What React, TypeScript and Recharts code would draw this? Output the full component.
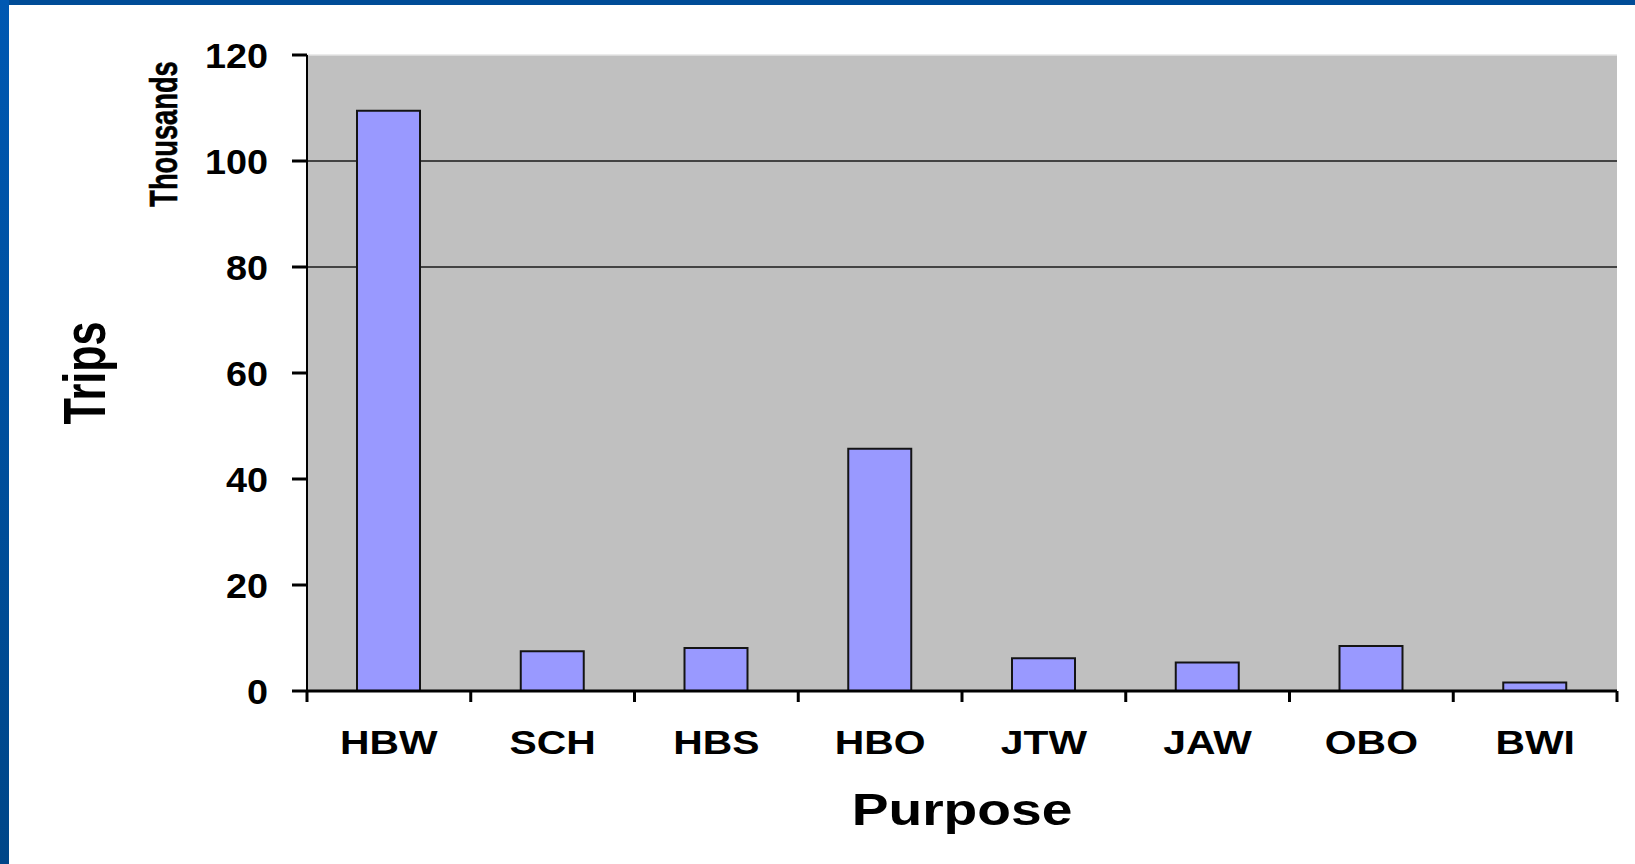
import React from 'react';
import { BarChart, Bar, XAxis, YAxis, CartesianGrid, ReferenceLine } from 'recharts';

// ── Data (thousands of trips by purpose) ──────────────────────────────────────
const purposes = ['HBW', 'SCH', 'HBS', 'HBO', 'JTW', 'JAW', 'OBO', 'BWI'];
const tripsThousands = [109.5, 7.5, 8.1, 45.7, 6.2, 5.4, 8.5, 1.6];
const yTicks = [0, 20, 40, 60, 80, 100, 120];
const gridValues = [80, 100];

const data = purposes.map((p, i) => ({ purpose: p, trips: tripsThousands[i] }));

const FONT = "'Liberation Sans', Arial, sans-serif";
const BAND_HALF = 1310 / purposes.length / 2;

// ── Ticks & titles ────────────────────────────────────────────────────────────

function ValueTick(props: any) {
  const { x, y, payload } = props;
  return (
    <text
      transform={`translate(${x},${y}) scale(1.08,1)`}
      textAnchor="end" dy="0.36em"
      fontFamily={FONT} fontWeight={700} fontSize={35} fill="#000"
    >
      {payload.value}
    </text>
  );
}

function PurposeTick(props: any) {
  const { x, y, payload, index } = props;
  const half = payload?.offset ?? BAND_HALF;
  const last = index === purposes.length - 1;
  return (
    <g>
      <line x1={x - half} x2={x - half} y1={y} y2={y + 11} stroke="#000" strokeWidth={3} />
      {last && <line x1={x + half} x2={x + half} y1={y} y2={y + 11} stroke="#000" strokeWidth={3} />}
      <text
        transform={`translate(${x},${y + 63}) scale(1.22,1)`}
        textAnchor="middle"
        fontFamily={FONT} fontWeight={700} fontSize={33.5} fill="#000"
      >
        {payload.value}
      </text>
    </g>
  );
}

function YTitles(props: any) {
  const vb = props.viewBox ?? { x: 0, y: 55, width: 307, height: 636 };
  const midY = vb.y + vb.height / 2;
  return (
    <g fontFamily={FONT} fontWeight={700} fill="#000">
      <text transform={`translate(${vb.x + 105},${midY}) rotate(-90) scale(0.72,1)`}
        textAnchor="middle" fontSize={60}>Trips</text>
      <text transform={`translate(${vb.x + 177},${vb.y + 79}) rotate(-90) scale(0.70,1)`}
        textAnchor="middle" fontSize={39} stroke="#000" strokeWidth={0.6}>Thousands</text>
    </g>
  );
}

function XTitle(props: any) {
  const vb = props.viewBox ?? { x: 307, y: 691, width: 1310, height: 60 };
  return (
    <text transform={`translate(${vb.x + vb.width / 2},${vb.y + 134}) scale(1.24,1)`}
      textAnchor="middle" fontFamily={FONT} fontWeight={700} fontSize={44.5} fill="#000">
      Purpose
    </text>
  );
}

// ── App ───────────────────────────────────────────────────────────────────────

export default function App() {
  return (
    <div style={{ position: 'absolute', left: 0, top: 0, width: 1635, height: 864, background: '#fff', overflow: 'hidden' }}>
      <div style={{ position: 'absolute', left: 0, top: 0, width: 1635, height: 5, background: '#004C97' }} />
      <div style={{
        position: 'absolute', left: 0, top: 0, width: 9, height: 864,
        background: 'linear-gradient(#0058B2, #004688)',
      }} />

      <div style={{ position: 'absolute', left: 0, top: 0 }}>
        <BarChart width={1635} height={864} data={data}
          margin={{ top: 55, right: 18, bottom: 113, left: 0 }}>
          {/* gray plot area; only the 80 and 100 gridlines are drawn, behind the bars */}
          <CartesianGrid fill="#C0C0C0" vertical={false}
            horizontalValues={gridValues} stroke="#1a1a1a" strokeWidth={1.5} />
          <ReferenceLine y={120} stroke="#e4e4e4" strokeWidth={1.5} />

          <XAxis
            dataKey="purpose" type="category" height={60}
            axisLine={{ stroke: '#000', strokeWidth: 3 }}
            tickLine={false} tickSize={0} tickMargin={0}
            tick={<PurposeTick />} interval={0}
            label={XTitle}
          />
          <YAxis
            domain={[0, 120]} ticks={yTicks} width={307} interval={0}
            axisLine={{ stroke: '#000', strokeWidth: 2 }}
            tickLine={{ stroke: '#000', strokeWidth: 3 }}
            tickSize={15} tickMargin={24}
            tick={<ValueTick />}
            label={YTitles}
          />
          <YAxis
            yAxisId="edge" orientation="right" domain={[0, 120]} width={0}
            axisLine={{ stroke: '#8a8a8a', strokeWidth: 3 }}
            tick={false} tickLine={false}
          />

          <Bar dataKey="trips" fill="#9999FF" stroke="#141414" strokeWidth={2}
            barSize={63} isAnimationActive={false} />
        </BarChart>
      </div>
    </div>
  );
}
